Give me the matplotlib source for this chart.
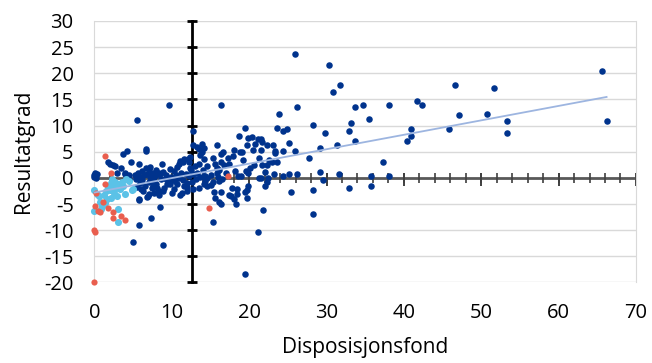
import numpy as np
import matplotlib.pyplot as plt

# Dark blue series
dark_x = [0.0, 0.0, 0.1, 0.2, 0.1, 0.3,
          1.7, 2.0, 2.4, 2.7, 3.4, 3.7, 4.2, 4.7, 5.8, 3.9, 2.9, 5.5, 3.9, 4.4, 4.5,
          5.2, 5.4, 5.6, 5.8, 5.9, 6.1, 6.2, 6.4, 6.5, 6.6, 6.6, 6.7, 6.8, 6.8, 6.9,
          7.0, 7.0, 7.1, 7.2, 7.2, 7.3, 7.4, 7.5, 7.6, 7.7, 7.8, 7.9, 8.0, 8.1, 8.2,
          8.3, 8.3, 8.5, 8.5, 8.6, 8.7, 8.8, 8.8, 8.9, 9.0, 9.2, 9.4, 9.6, 9.6, 9.8,
          9.8, 10.0, 5.7, 5.8, 5.0, 5.8, 6.0, 6.3, 5.5, 7.7, 8.4, 9.3, 9.9,
          10.3, 10.3, 10.5, 10.7, 10.7, 10.9, 10.9, 11.0, 11.1, 11.2, 11.3, 11.4,
          11.5, 11.6, 11.6, 11.8, 12.0, 12.0, 12.1, 12.2, 12.2, 12.4, 12.5, 12.6,
          12.8, 12.8, 12.8, 12.8, 13.0, 13.1, 13.3, 13.3, 13.5, 13.5, 13.5, 13.7,
          13.7, 13.9, 13.9, 14.0, 14.1, 14.1, 14.1, 14.2, 14.3, 14.3, 14.5, 14.6,
          14.6, 11.9, 10.4, 12.3,
          15.0, 15.0, 15.3, 15.3, 15.3, 15.4, 15.6, 15.6, 15.8, 15.9, 15.9, 16.1,
          16.1, 16.1, 16.3, 16.4, 16.4, 16.4, 16.4, 16.5, 16.6, 16.7, 17.2, 17.4,
          17.4, 17.7, 17.8, 17.9, 18.0, 18.1, 18.2, 18.3, 18.4, 18.4, 18.5, 18.7,
          18.8, 19.0, 19.1, 19.2, 19.4, 19.4, 19.5, 19.6, 19.7, 19.7, 19.7, 19.9,
          19.9, 19.9, 16.0, 17.0,
          20.1, 20.3, 20.5, 20.6, 20.8, 21.1, 21.2, 21.3, 21.3, 21.5, 21.5, 21.5,
          21.7, 21.7, 21.8, 22.0, 22.0, 22.3, 22.3, 22.3, 22.4, 22.5, 22.9, 23.1,
          23.2, 23.3, 23.4, 23.6, 23.6, 23.8, 24.4, 24.4, 24.4, 24.9,
          25.1, 25.1, 25.4, 25.9, 25.9, 26.2, 26.2, 27.7, 28.2, 28.2, 28.2, 29.2,
          29.2, 29.5, 29.8, 30.3, 30.8, 31.4, 31.6, 31.8, 32.9, 32.9, 33.2, 33.7,
          33.7, 34.7, 35.5, 35.8, 35.8, 37.3, 38.1, 38.1, 40.4, 40.9, 40.9, 41.7,
          42.4, 45.8, 46.6, 47.1, 50.7, 51.7, 53.3, 53.3, 65.6, 66.2]
dark_y = [0.2, 0.6, 1.0, -0.1, 0.4, 0.8,
          3.1, 2.7, 2.5, 2.2, 1.8, 4.6, 5.1, 3.1, 2.7, 0.9, 0.9, 11.1, 0.7, 0.5, -0.3,
          0.5, -0.3, 0.9, 0.2, -1.0, 1.3, -0.5, 0.6, -1.6, 5.6, 5.1, 1.8, 0.7, -3.7, -3.5,
          1.7, -3.1, -0.8, 0.1, 2.0, -7.6, -2.0, 1.0, -1.3, -0.6, 0.4, -1.2, 1.5, -1.9, 0.8,
          -2.5, 1.0, 0.7, -5.6, -0.3, 2.7, -2.5, 1.2, -12.9, -1.9, -0.3, -1.2, -0.6, 13.9, 1.7,
          -1.2, -2.8, -4.1, -9.1, -12.3, -4.2, -2.2, -2.6, -1.8, -2.9, -3.2, 0.6, 0.2,
          1.4, -2.2, 0.5, 2.0, -1.2, 2.7, 0.0, 3.3, -3.3, 1.0, -2.8, 3.0,
          -0.5, 3.7, -1.5, 0.8, -1.8, -2.5, 3.7, 3.0, 0.3, 4.0, 1.5, -0.8,
          0.7, -2.2, 6.2, 8.9, 2.2, -0.3, 1.0, 5.9, 5.5, -1.9, 2.6, 0.1,
          4.3, 4.9, 6.5, 1.5, 3.7, 0.4, 5.7, -1.2, -0.6, 0.3, 2.2, -0.1,
          -1.6, -0.9, -0.6, 1.9,
          0.5, -1.4, 3.8, -0.7, -8.4, -2.7, 2.7, -3.8, 0.9, 1.8, 6.2, 1.5,
          -0.6, -4.7, -2.7, 3.0, 4.6, -5.0, 13.9, -0.2, 5.0, 2.5, 3.8, 2.7,
          -3.2, -3.5, -1.9, 4.2, -4.1, 5.4, 1.4, -5.0, -2.2, -3.0, 0.3, 8.1,
          5.0, 0.3, 5.0, 3.5, 9.6, -18.3, -2.7, 1.4, 6.3, -2.3, -3.9, 1.0,
          -1.6, 7.7, 0.2, 0.9,
          1.8, 7.8, 5.4, 2.4, 6.5, 7.4, -10.3, 3.8, 0.0, -0.1, 5.4, 7.4,
          6.8, 2.4, -6.1, 1.2, -1.5, 6.2, 2.4, -0.7, 0.0, 3.5, 3.1, 6.2,
          0.7, 5.2, 4.8, 3.1, 9.5, 12.3, 8.9, 5.1, 0.3, 9.3,
          6.7, 0.7, -2.7, 5.1, 23.6, 13.5, 0.7, 3.8, 10.1, -2.3, -6.9, 1.2,
          5.8, -0.4, 8.5, 21.6, 16.4, 6.2, 0.8, 17.8, 8.9, -1.9, 10.4, 13.5,
          7.0, 13.9, 11.2, 0.4, -1.5, 3.1, 13.9, 0.4, 7.0, 8.1, 9.3, 14.7,
          13.9, 9.3, 17.8, 12.0, 12.3, 17.2, 10.8, 8.5, 20.4, 10.8]

# Light blue series
light_x = [0.0, 0.0, 0.3, 0.6, 0.7, 0.9, 1.0, 1.2, 1.5, 1.6, 1.8, 2.0, 2.1, 2.3,
           2.4, 2.5, 2.6, 2.8, 2.9, 3.0, 3.0, 3.1, 3.3, 3.5, 3.7, 4.0, 4.1, 4.4,
           4.8, 5.0, 1.3, 2.2]
light_y = [-2.3, -6.3, -3.0, -3.5, -4.6, -6.0, -5.3, -3.2, -2.6, -4.0, -1.8, -2.4,
           -1.0, -0.3, -1.6, -2.9, -0.8, -1.9, -3.5, -6.0, -8.4, -1.2, -2.2, -0.8,
           -1.5, -3.1, -0.3, -0.6, -2.4, -2.2, -4.8, -3.8]

# Red series
red_x = [1.3, 2.1, 1.3, 0.2, 0.1, 0.4, 1.1, 1.7, 0.7, 2.4, 2.4, 3.4, 3.9, 0.0, 0.1, 0.0, 17.2, 14.8]
red_y = [4.2, 0.9, -1.1, -2.8, -5.4, -6.3, -4.6, -5.7, -6.5, -6.5, -7.6, -7.3, -8.0,
         -9.9, -10.3, -20.0, 0.4, -5.7]

# linear trend
trend_intercept = -2.8
trend_slope = 0.276

x_cross = 12.6  # where the vertical axis crosses
xlim = (0, 70)
ylim = (-20, 30)

plt.rcParams['font.family'] = ['Open Sans', 'DejaVu Sans']
plt.rcParams['axes.unicode_minus'] = False

fig = plt.figure(figsize=(6.52, 3.63), dpi=100)
ax = fig.add_axes([0.1449, 0.2218, 0.8305, 0.7204])
ax.set_xlim(xlim)
ax.set_ylim(ylim)

# grid and frame
ax.set_yticks(np.arange(-20, 31, 5))
ax.set_xticks(np.arange(0, 71, 10))
ax.yaxis.grid(True, color='#d9d9d9', lw=1)
ax.set_axisbelow(True)
for s in ['top', 'bottom']:
    ax.spines[s].set_visible(False)
for s in ['left', 'right']:
    ax.spines[s].set_color('#d9d9d9')
ax.tick_params(length=0, labelsize=14.5, colors='black')
ax.tick_params(axis='y', pad=15)
ax.tick_params(axis='x', pad=15)

# horizontal axis line at y=0 with ticks
ax.plot(xlim, [0, 0], color='#595959', lw=2, zorder=2)
minor = np.arange(0, 71, 2)
ax.vlines(minor, -1.0, 1.0, color='#404040', lw=1.2, zorder=2)
ax.vlines(np.arange(0, 71, 10), -1.6, 1.0, color='#404040', lw=1.4, zorder=2)

# vertical axis line with crossing ticks
ax.plot([x_cross, x_cross], ylim, color='black', lw=2, zorder=2, clip_on=False)
ax.hlines(np.arange(-20, 31, 5), x_cross - 0.7, x_cross + 0.7, color='black', lw=2,
          zorder=2, clip_on=False)

# points
ax.scatter(dark_x, dark_y, s=22, color='#00338D', zorder=3, linewidths=0, clip_on=False)
ax.scatter(light_x, light_y, s=26, color='#5BC2E7', zorder=4, linewidths=0, clip_on=False)
ax.scatter(red_x, red_y, s=20, color='#E95E4E', zorder=5, linewidths=0, clip_on=False)

# trend line over the range of the data
all_x = np.array(dark_x + light_x + red_x)
tx = np.array([all_x.min(), all_x.max()])
ax.plot(tx, trend_intercept + trend_slope * tx, color='#9DB5E0', lw=1.3, zorder=6)

ax.set_xlabel('Disposisjonsfond', fontsize=15, labelpad=10)
ax.set_ylabel('Resultatgrad', fontsize=15, labelpad=7)

fig.savefig('out.png', dpi=100)
